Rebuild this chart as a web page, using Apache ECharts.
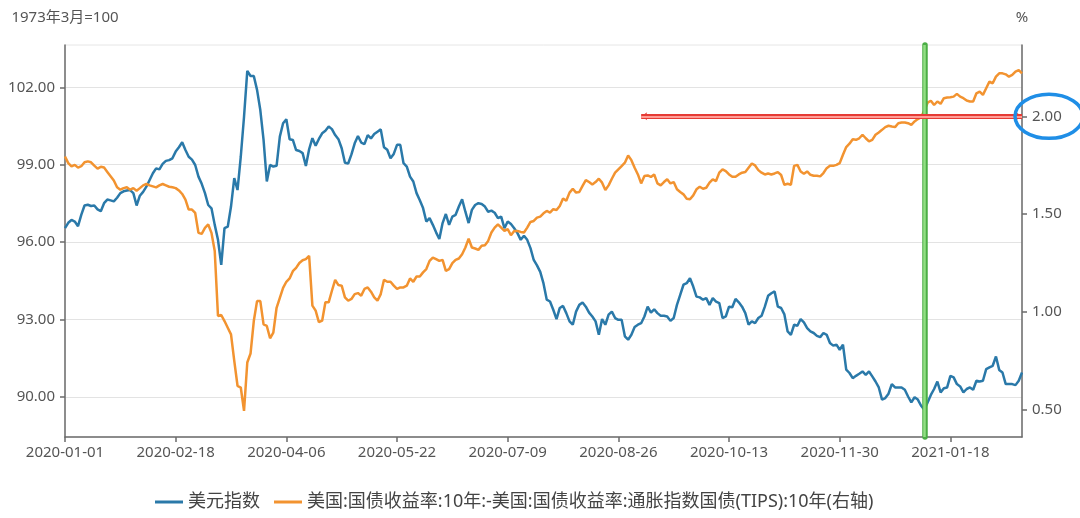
<!DOCTYPE html>
<html>
<head>
<meta charset="utf-8">
<script src="https://cdn.jsdelivr.net/npm/echarts@6/dist/echarts.min.js"></script>
<style>
html,body{margin:0;padding:0;background:#fff;}
#chart{width:1080px;height:518px;}
</style>
</head>
<body>
<div id="chart"></div>
<script>
// ---- data ----
const seriesNames = ['美元指数', '美国:国债收益率:10年:-美国:国债收益率:通胀指数国债(TIPS):10年(右轴)'];
const leftAxisName = '1973年3月=100';
const rightAxisName = '%';
const leftTicks = [90, 93, 96, 99, 102];
const rightTicks = [0.5, 1.0, 1.5, 2.0];

const dxy = [
96.54,96.75,96.86,96.80,96.62,97.06,97.42,97.45,97.40,97.42,
97.27,97.20,97.51,97.65,97.62,97.58,97.72,97.90,97.97,98.00,
98.02,97.90,97.42,97.80,97.95,98.15,98.41,98.67,98.86,98.82,
99.03,99.15,99.18,99.25,99.51,99.68,99.87,99.57,99.31,99.20,
98.99,98.54,98.26,97.90,97.44,97.31,96.67,96.09,95.12,96.54,
96.60,97.38,98.48,98.02,99.31,100.86,102.64,102.44,102.44,101.90,
101.12,99.96,98.35,98.99,98.93,98.96,100.09,100.61,100.76,99.99,
99.96,99.57,99.53,99.45,98.95,99.60,100.03,99.74,100.00,100.22,
100.32,100.48,100.38,100.15,99.99,99.64,99.08,99.05,99.40,99.83,
100.11,99.86,99.80,100.15,100.02,100.19,100.28,100.37,99.68,99.58,
99.25,99.42,99.77,99.77,99.06,98.93,98.54,98.35,97.90,97.62,
97.32,96.80,96.93,96.67,96.38,96.12,96.74,97.09,96.67,96.99,
97.06,97.38,97.66,97.18,96.74,97.25,97.44,97.51,97.48,97.38,
97.18,97.22,97.14,96.93,96.99,96.54,96.80,96.70,96.54,96.35,
96.09,96.25,96.09,95.77,95.31,95.10,94.85,94.40,93.77,93.70,
93.38,93.02,93.45,93.53,93.25,92.93,92.80,93.31,93.57,93.66,
93.50,93.27,93.12,92.93,92.41,93.02,92.80,93.19,93.31,93.06,
92.99,92.99,92.35,92.22,92.41,92.71,92.80,92.86,93.12,93.50,
93.27,93.40,93.25,93.15,93.15,93.12,92.95,93.06,93.57,93.96,
94.35,94.41,94.60,94.28,93.89,93.86,93.77,93.83,93.57,93.83,
93.70,93.64,93.06,93.12,93.50,93.48,93.80,93.67,93.50,93.25,
92.80,92.93,92.86,93.06,93.15,93.50,93.92,94.02,94.09,93.50,
93.45,93.20,92.54,92.41,92.80,92.76,93.02,92.89,92.67,92.54,
92.48,92.37,92.32,92.48,92.41,92.09,91.99,92.03,91.83,92.03,
91.06,90.93,90.73,90.82,90.90,90.99,90.86,90.99,90.80,90.60,
90.37,89.90,89.96,90.13,90.50,90.37,90.37,90.37,90.28,90.02,
89.79,89.99,89.90,89.66,89.51,89.79,90.08,90.31,90.60,90.18,
90.34,90.37,90.82,90.76,90.50,90.41,90.18,90.31,90.37,90.28,
90.63,90.60,90.63,91.08,91.15,91.21,91.57,91.05,90.95,90.50,
90.50,90.50,90.46,90.63,90.95
];

const breakeven = [
1.795,1.761,1.744,1.752,1.738,1.745,1.765,1.770,1.765,1.748,
1.733,1.742,1.738,1.716,1.694,1.672,1.637,1.625,1.633,1.637,
1.625,1.633,1.620,1.633,1.647,1.654,1.647,1.642,1.637,1.647,
1.654,1.647,1.640,1.637,1.633,1.621,1.603,1.574,1.523,1.523,
1.506,1.404,1.399,1.430,1.447,1.404,1.311,0.979,0.984,0.953,
0.919,0.885,0.749,0.622,0.613,0.494,0.741,0.787,0.953,1.055,
1.055,0.936,0.928,0.865,0.894,1.021,1.072,1.123,1.154,1.171,
1.208,1.225,1.250,1.264,1.270,1.287,1.032,1.006,0.947,0.955,
1.049,1.049,1.108,1.164,1.137,1.134,1.074,1.057,1.066,1.091,
1.096,1.083,1.117,1.125,1.103,1.074,1.057,1.091,1.164,1.154,
1.154,1.134,1.117,1.125,1.125,1.134,1.171,1.154,1.181,1.181,
1.202,1.219,1.261,1.278,1.270,1.261,1.266,1.210,1.219,1.249,
1.266,1.273,1.295,1.329,1.375,1.329,1.324,1.317,1.338,1.341,
1.363,1.406,1.431,1.448,1.431,1.414,1.423,1.392,1.414,1.414,
1.409,1.406,1.431,1.460,1.465,1.482,1.487,1.504,1.516,1.508,
1.525,1.521,1.542,1.580,1.568,1.610,1.630,1.610,1.613,1.644,
1.674,1.664,1.652,1.664,1.681,1.661,1.623,1.647,1.681,1.712,
1.729,1.746,1.763,1.800,1.776,1.737,1.703,1.657,1.695,1.698,
1.690,1.703,1.657,1.647,1.664,1.678,1.657,1.664,1.627,1.613,
1.601,1.579,1.576,1.596,1.627,1.640,1.630,1.635,1.661,1.678,
1.669,1.712,1.729,1.720,1.703,1.691,1.691,1.703,1.712,1.715,
1.737,1.759,1.749,1.725,1.712,1.703,1.708,1.703,1.708,1.715,
1.700,1.650,1.655,1.650,1.747,1.752,1.718,1.706,1.718,1.701,
1.696,1.696,1.693,1.710,1.735,1.747,1.747,1.752,1.761,1.804,
1.843,1.860,1.883,1.880,1.888,1.906,1.888,1.872,1.880,1.906,
1.918,1.931,1.945,1.952,1.948,1.945,1.965,1.969,1.969,1.965,
1.957,1.974,1.986,1.996,2.030,2.070,2.080,2.058,2.076,2.064,
2.093,2.096,2.098,2.101,2.115,2.101,2.093,2.081,2.076,2.076,
2.118,2.127,2.110,2.144,2.178,2.169,2.203,2.220,2.220,2.215,
2.203,2.212,2.229,2.237,2.220
];

// trading-day calendar (weekdays, market holiday excluded)
const startDate = '2020-01-01';
const skippedDays = ['2020-12-25'];
const categories = [];
(function () {
  const d = new Date(startDate + 'T00:00:00Z');
  while (categories.length < dxy.length) {
    const wd = d.getUTCDay();
    const s = d.toISOString().slice(0, 10);
    if (wd !== 0 && wd !== 6 && skippedDays.indexOf(s) < 0) categories.push(s);
    d.setUTCDate(d.getUTCDate() + 1);
  }
})();
const labelStep = 34;

// annotation anchors (data-based)
const markDateIndex = 264;        // vertical green marker
const refLineValue = 2.0;         // horizontal red reference (right axis)
const refLineStartIndex = 177;

// ---- chart ----
const FONT = '"Noto Sans", "Noto Sans CJK SC", sans-serif';
const AXIS_COLOR = '#6b6b6b';
const LABEL_COLOR = '#555';
const chart = echarts.init(document.getElementById('chart'));

const showIdx = (i) => i % labelStep === 0;

const option = {
  animation: false,
  backgroundColor: '#fff',
  textStyle: { fontFamily: FONT },
  grid: { left: 65, right: 58, top: 45, bottom: 81, show: true, borderColor: '#e6e6e6', borderWidth: 1 },
  legend: {
    left: 150, bottom: 2,
    icon: 'rect', itemWidth: 28, itemHeight: 3, itemGap: 14,
    textStyle: { fontSize: 18, color: '#444', fontFamily: FONT },
    data: seriesNames
  },
  xAxis: {
    type: 'category', boundaryGap: false, data: categories,
    axisLine: { lineStyle: { color: AXIS_COLOR, width: 1.5 } },
    axisTick: { interval: showIdx, length: 5, lineStyle: { color: AXIS_COLOR, width: 1.5 } },
    axisLabel: { interval: showIdx, fontSize: 15, color: LABEL_COLOR, margin: 8, fontFamily: FONT, hideOverlap: false },
    splitLine: { show: false }
  },
  yAxis: [
    {
      type: 'value', min: 88.45, max: 103.64, position: 'left',
      name: leftAxisName, nameLocation: 'end', nameGap: 20,
      nameTextStyle: { fontSize: 15, color: LABEL_COLOR, fontFamily: FONT, align: 'center' },
      axisLine: { show: true, lineStyle: { color: AXIS_COLOR, width: 1.5 } },
      axisTick: { show: true, length: 5, customValues: leftTicks, lineStyle: { color: AXIS_COLOR, width: 1.5 } },
      axisLabel: { customValues: leftTicks, fontSize: 15, color: LABEL_COLOR, margin: 10, fontFamily: FONT,
        formatter: v => Number(v).toFixed(2) },
      splitLine: { show: true, lineStyle: { color: '#e3e3e3', width: 1.2 } }
    },
    {
      type: 'value', min: 0.36, max: 2.365, position: 'right',
      name: rightAxisName, nameLocation: 'end', nameGap: 20,
      nameTextStyle: { fontSize: 15, color: LABEL_COLOR, fontFamily: FONT, align: 'center' },
      axisLine: { show: true, lineStyle: { color: AXIS_COLOR, width: 1.5 } },
      axisTick: { show: true, length: 5, customValues: rightTicks, lineStyle: { color: AXIS_COLOR, width: 1.5 } },
      axisLabel: { customValues: rightTicks, fontSize: 15, color: LABEL_COLOR, margin: 10, fontFamily: FONT,
        formatter: v => Number(v).toFixed(2) },
      splitLine: { show: false }
    }
  ],
  series: [
    {
      name: seriesNames[0], type: 'line', yAxisIndex: 0, data: dxy,
      showSymbol: false, symbol: 'none', smooth: false,
      lineStyle: { color: '#2a79a9', width: 2.5 }, itemStyle: { color: '#2a79a9' },
      markLine: {
        silent: true, symbol: 'none', animation: false, label: { show: false },
        data: [
          { xAxis: categories[markDateIndex], lineStyle: { color: '#4bae45', width: 5.5, type: 'solid', cap: 'round' } },
          { xAxis: categories[markDateIndex], lineStyle: { color: '#92de84', width: 2.5, type: 'solid' } }
        ]
      }
    },
    {
      name: seriesNames[1], type: 'line', yAxisIndex: 1, data: breakeven,
      showSymbol: false, symbol: 'none', smooth: false,
      lineStyle: { color: '#f29330', width: 2.5 }, itemStyle: { color: '#f29330' },
      markLine: {
        silent: true, animation: false, label: { show: false },
        symbol: ['arrow', 'arrow'], symbolSize: 6,
        data: [
          [
            { coord: [categories[refLineStartIndex], refLineValue], lineStyle: { color: '#e63b35', width: 5, type: 'solid' }, itemStyle: { color: '#e63b35' } },
            { coord: [categories[dxy.length - 1], refLineValue] }
          ],
          [
            { coord: [categories[refLineStartIndex], refLineValue], lineStyle: { color: '#ff9d96', width: 1.8, type: 'solid' }, symbol: 'none', symbolSize: 0 },
            { coord: [categories[dxy.length - 1], refLineValue], symbol: 'none', symbolSize: 0 }
          ]
        ]
      }
    }
  ]
};
chart.setOption(option);

// highlight ellipse around the right-axis 2.00 label
const yRef = chart.convertToPixel({ yAxisIndex: 1 }, refLineValue);
const gridRight = chart.getWidth() - 58;
chart.setOption({
  graphic: [{
    type: 'ellipse', silent: true, z: 100,
    shape: { cx: gridRight + 27, cy: yRef, rx: 34, ry: 22 },
    style: { fill: 'none', stroke: '#1f8ee6', lineWidth: 3.5 }
  }]
});
</script>
</body>
</html>
